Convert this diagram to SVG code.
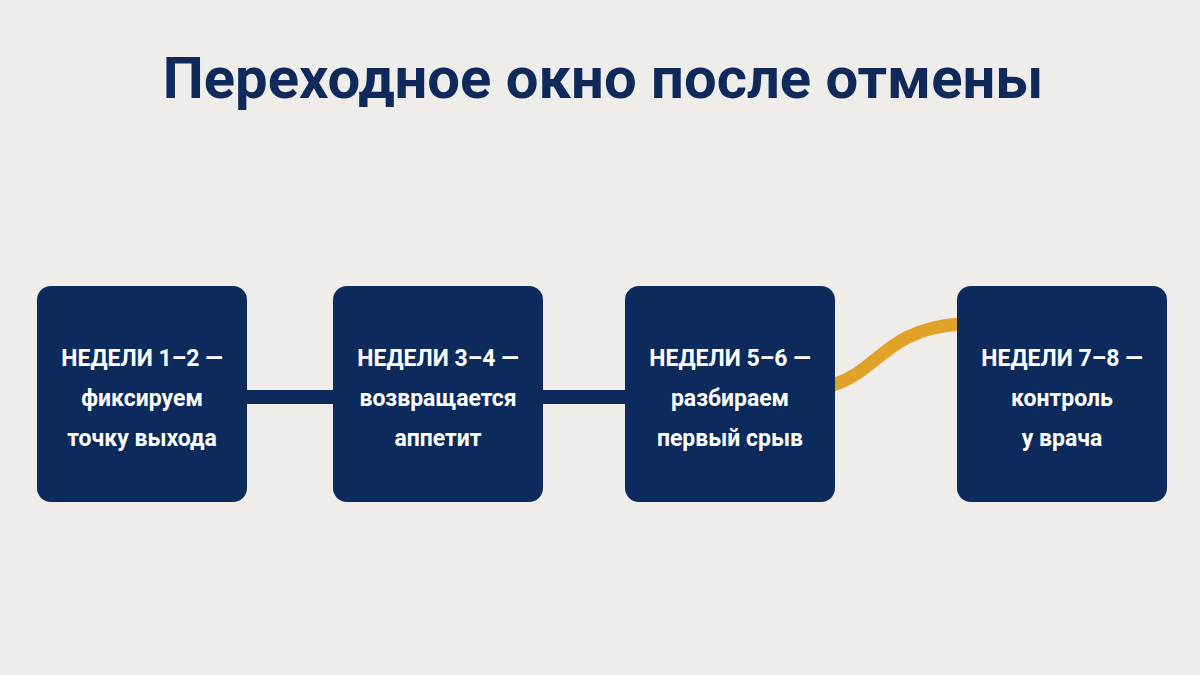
<svg xmlns="http://www.w3.org/2000/svg" width="1200" height="675" viewBox="0 0 1200 675">
<style>
.box{fill:#0c2a5b}
.t{font-family:"Roboto","Liberation Sans",sans-serif;font-weight:700;fill:#fff;font-size:23px;text-anchor:middle}
.title{font-family:"Roboto","Liberation Sans",sans-serif;font-weight:700;fill:#0f2a5a;font-size:58px;text-anchor:middle}
</style>
<rect width="1200" height="675" fill="#efede9"/>
<text class="title" x="603" y="98">Переходное окно после отмены</text>
<g id="connectors">
<line x1="245" y1="397" x2="335" y2="397" stroke="#0c2a5b" stroke-width="14"/>
<line x1="541" y1="397" x2="627" y2="397" stroke="#0c2a5b" stroke-width="14"/>
<path d="M833,385 C880,370 885,330 959,324" fill="none" stroke="#e0a228" stroke-width="13"/>
</g>
<g id="n1"><rect class="box" x="37" y="286" width="210" height="216" rx="14"/>
<text class="t" x="142" y="366">НЕДЕЛИ 1–2 —</text><text class="t" x="142" y="406">фиксируем</text><text class="t" x="142" y="446">точку выхода</text></g>
<g id="n2"><rect class="box" x="333" y="286" width="210" height="216" rx="14"/>
<text class="t" x="438" y="366">НЕДЕЛИ 3–4 —</text><text class="t" x="438" y="406">возвращается</text><text class="t" x="438" y="446">аппетит</text></g>
<g id="n3"><rect class="box" x="625" y="286" width="210" height="216" rx="14"/>
<text class="t" x="730" y="366">НЕДЕЛИ 5–6 —</text><text class="t" x="730" y="406">разбираем</text><text class="t" x="730" y="446">первый срыв</text></g>
<g id="n4"><rect class="box" x="957" y="286" width="210" height="216" rx="14"/>
<text class="t" x="1062" y="366">НЕДЕЛИ 7–8 —</text><text class="t" x="1062" y="406">контроль</text><text class="t" x="1062" y="446">у врача</text></g>
</svg>
